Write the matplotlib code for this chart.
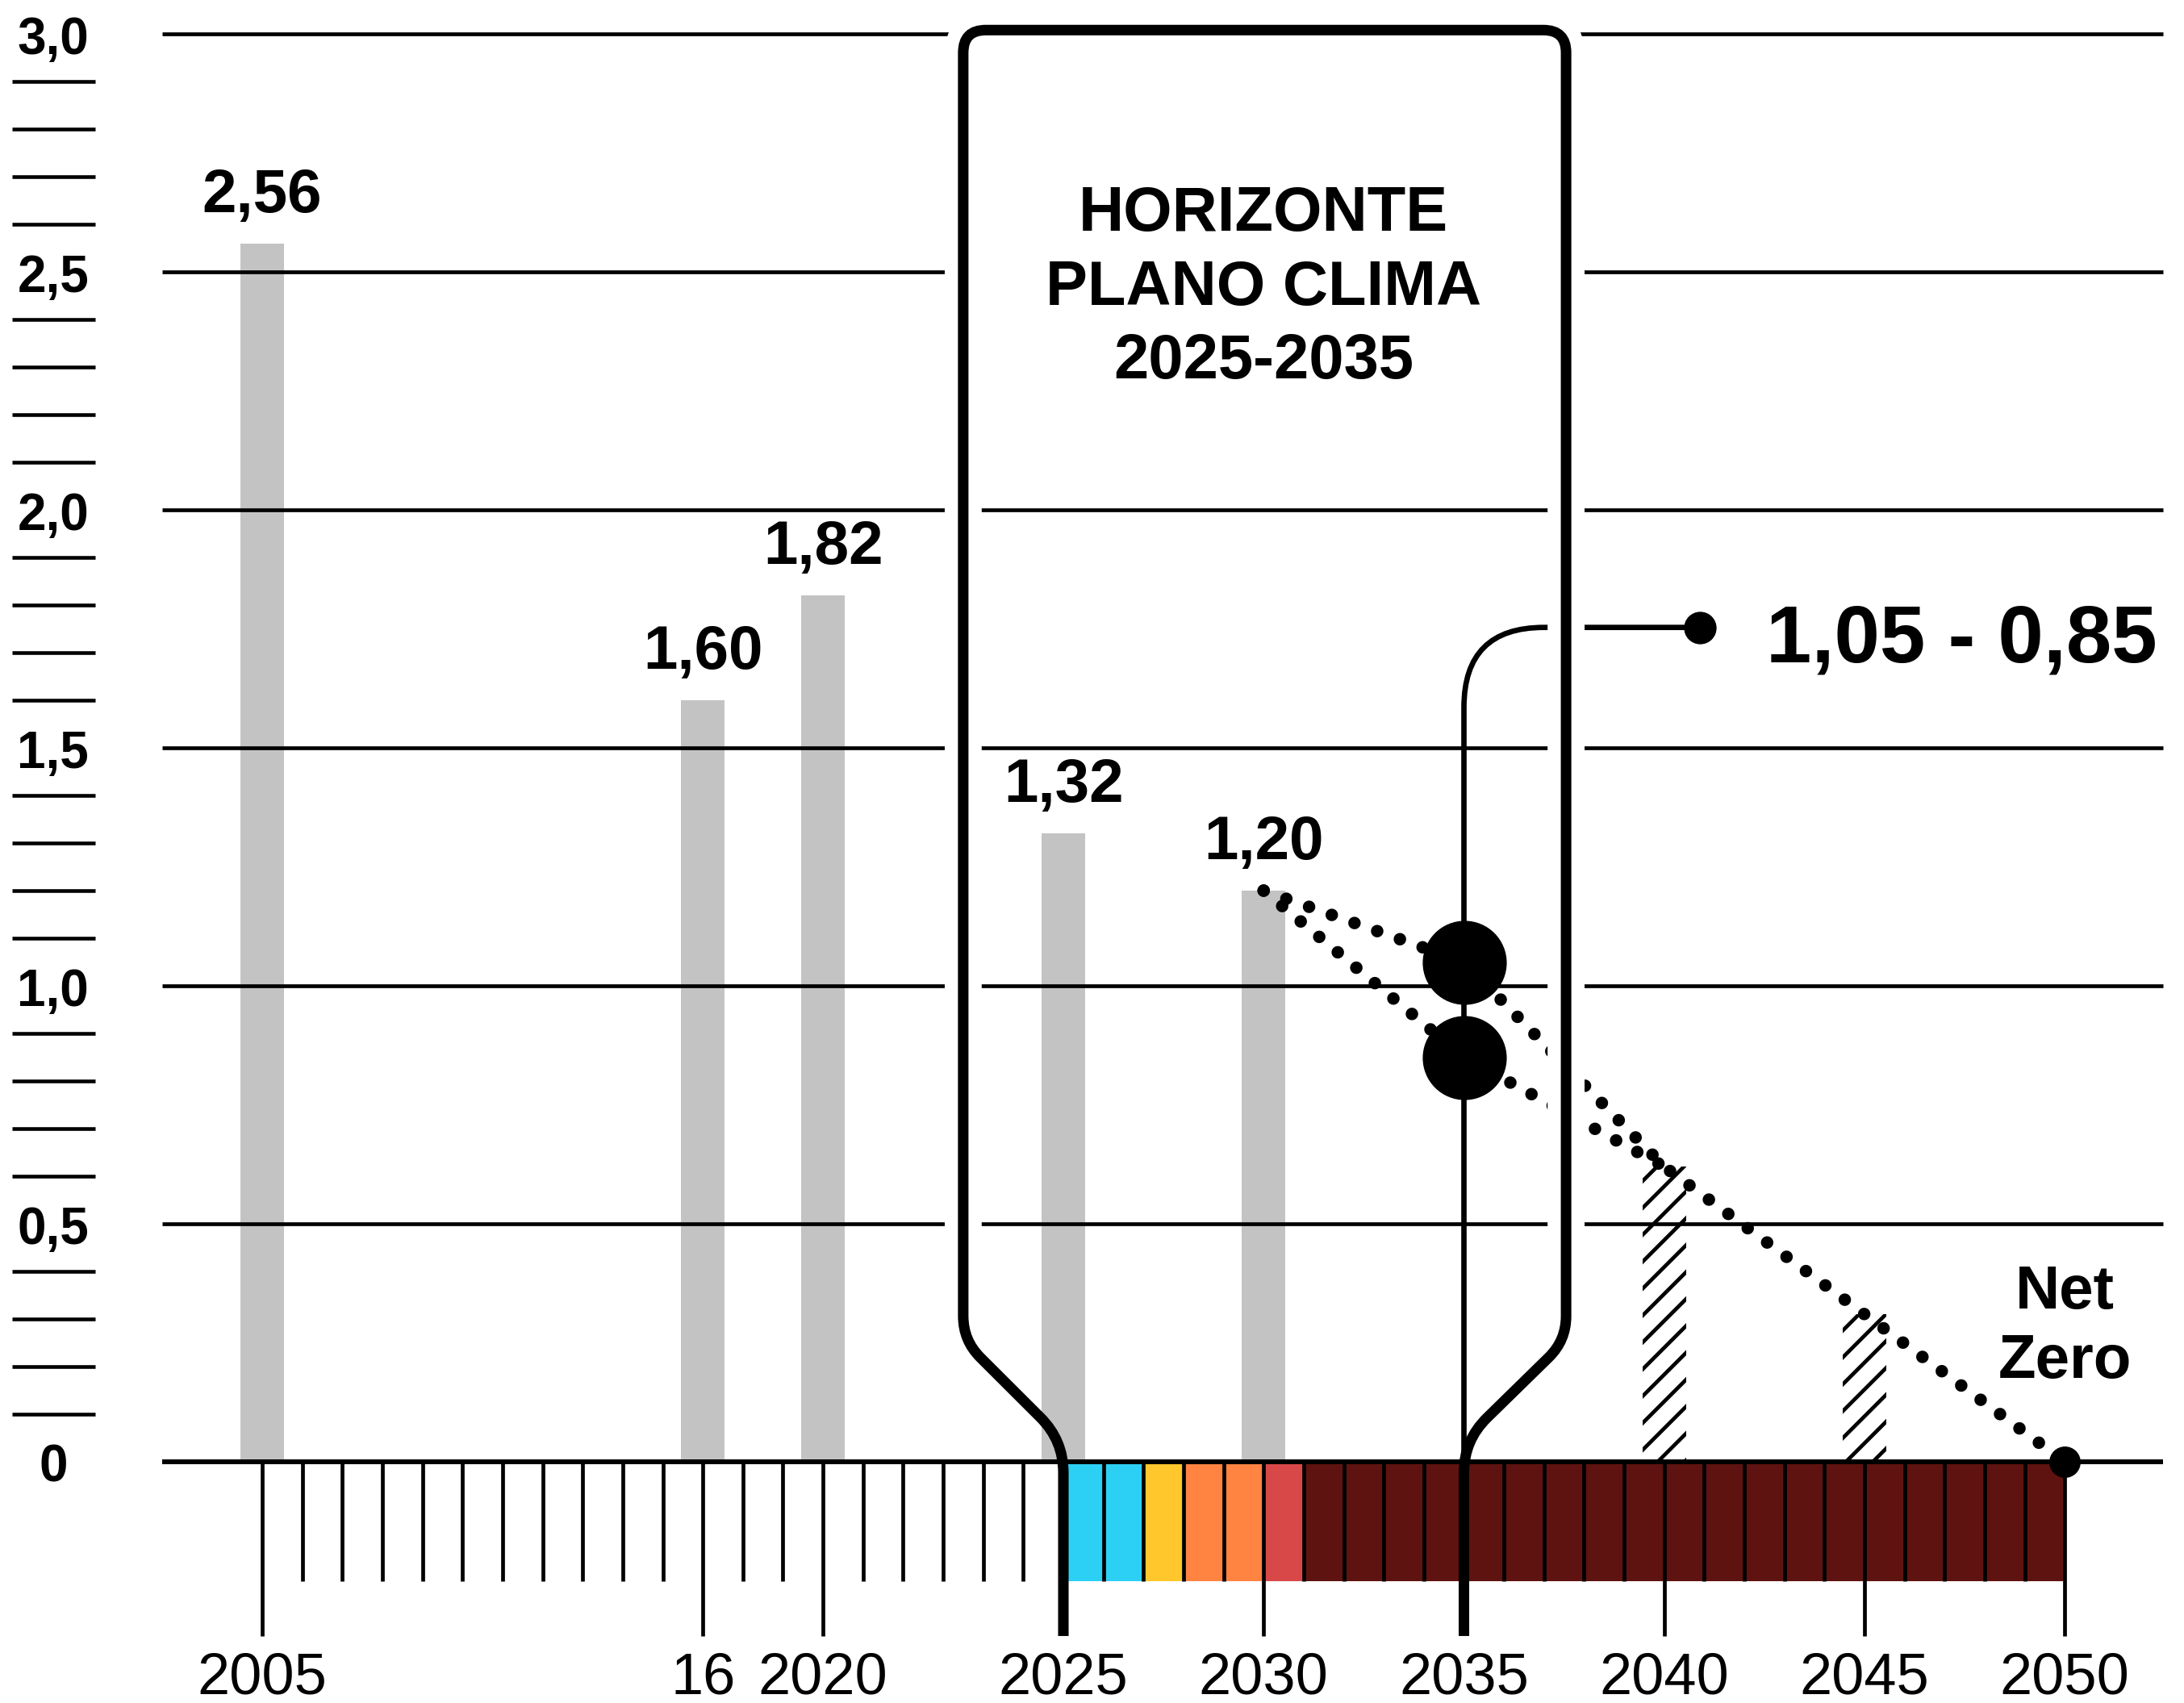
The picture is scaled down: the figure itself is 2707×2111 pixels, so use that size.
import numpy as np
import matplotlib
matplotlib.use("Agg")
import matplotlib.pyplot as plt
from matplotlib.path import Path
from matplotlib.patches import PathPatch

plt.rcParams['font.family'] = ['Liberation Sans', 'DejaVu Sans']
plt.rcParams['hatch.linewidth'] = 3.4

# =============================
#  Data
# =============================
bar_years = [2005, 2016, 2020, 2025, 2030]
bar_values = [2.56, 1.60, 1.82, 1.32, 1.20]
bar_labels = ["2,56", "1,60", "1,82", "1,32", "1,20"]

proj_years = [2040, 2045]
proj_values = [0.62, 0.31]

upper_years = [2030, 2035, 2040, 2050]
upper_values = [1.20, 1.05, 0.62, 0.0]
lower_years = [2030, 2035, 2040]
lower_values = [1.20, 0.85, 0.62]

target_year = 2035
target_values = [1.05, 0.85]
target_label = "1,05 - 0,85"

tick_years = [2005, 2016, 2020, 2025, 2030, 2035, 2040, 2045, 2050]
tick_labels = ["2005", "16", "2020", "2025", "2030", "2035", "2040", "2045", "2050"]
tick_slots = [0, 11, 14, 20, 25, 30, 35, 40, 45]

strip_years = list(range(2025, 2050))
strip_colors = (["#2dd0f5"] * 2 + ["#ffc72c"] + ["#ff8442"] * 2 +
                ["#d94848"] + ["#5f1310"] * 19)

y_ticks = [0, 0.5, 1.0, 1.5, 2.0, 2.5, 3.0]
title_lines = ["HORIZONTE", "PLANO CLIMA", "2025-2035"]
net_zero_lines = ["Net", "Zero"]

GREY = "#c3c3c3"

slot_of = dict(zip(tick_years, tick_slots))
def slot(year):
    # the chart's x axis is a run of equal steps, not a true year scale
    if year in slot_of:
        return slot_of[year]
    return year - 2005


# =============================
#  Figure
# =============================
fig = plt.figure(figsize=(27.07, 21.11), dpi=100)
ax = fig.add_axes([0, 0, 1, 1])
ax.axis("off")
px_x, px_y = 49.65, 590.0
ax.set_xlim(-325 / px_x, (2707 - 325) / px_x)
ax.set_ylim(-299 / px_y, (2111 - 299) / px_y)

def rounded(points, radii):
    px = ax.transData.transform(np.array(points, dtype=float))
    verts, codes = [px[0]], [Path.MOVETO]
    for i in range(1, len(px) - 1):
        p0, p1, p2 = px[i - 1], px[i], px[i + 1]
        d1 = (p0 - p1) / np.hypot(*(p0 - p1))
        d2 = (p2 - p1) / np.hypot(*(p2 - p1))
        r = radii[i - 1]
        verts += [p1 + d1 * r, p1, p1 + d2 * r]
        codes += [Path.LINETO, Path.CURVE3, Path.CURVE3]
    verts.append(px[-1])
    codes.append(Path.LINETO)
    verts = ax.transData.inverted().transform(np.array(verts))
    return Path(verts, codes)

box_l, box_r, box_t = 17.5, 32.55, 3.008
x_lo, x_hi = -2.5, 47.45

# ---- bars ----
ax.bar([slot(y) for y in bar_years], bar_values, width=1.09, color=GREY,
       linewidth=0, zorder=1)
for yr, v, lab in zip(bar_years, bar_values, bar_labels):
    ax.annotate(lab, (slot(yr), v), xytext=(0, 28), textcoords="offset points",
                ha="center", va="baseline", fontsize=55, fontweight="bold",
                zorder=6)

ax.bar([slot(y) for y in proj_years], proj_values, width=1.09,
       facecolor="white", edgecolor="black", linewidth=0, hatch="/", zorder=1)

# ---- colour strip below the axis ----
ax.bar([slot(y) for y in strip_years], -0.251, width=1, align="edge",
       color=strip_colors, linewidth=0, zorder=1)

# ---- gridlines ----
for v in y_ticks:
    if v == 0:
        ax.plot([x_lo, x_hi], [0, 0], color="black", lw=4.3, zorder=2,
                solid_capstyle="butt")
    elif v >= 2.5:
        ax.plot([x_lo, box_l], [v, v], color="black", lw=3.4, zorder=2,
                solid_capstyle="butt")
        ax.plot([box_r, x_hi], [v, v], color="black", lw=3.4, zorder=2,
                solid_capstyle="butt")
    else:
        ax.plot([x_lo, x_hi], [v, v], color="black", lw=3.4, zorder=2,
                solid_capstyle="butt")

# ---- y labels and dashes ----
for v in y_ticks:
    lab = "0" if v == 0 else f"{v:.1f}".replace(".", ",")
    ax.text(-5.22, v - 0.042, lab, ha="center", va="baseline", fontsize=46,
            fontweight="bold")
for k in range(1, 30):
    if k % 5:
        ax.plot([-6.24, -4.17], [k / 10, k / 10], color="black", lw=3.3,
                solid_capstyle="butt", zorder=2)

# ---- x ticks ----
long_slots = [s for s in tick_slots if s not in (20, 30)]
for s in range(0, 46):
    if s in (20, 30):
        continue
    bottom = -0.366 if s in long_slots else -0.251
    ax.plot([s, s], [0, bottom], color="black", lw=3.4, zorder=2,
            solid_capstyle="butt")
for s, lab in zip(tick_slots, tick_labels):
    ax.text(s, -0.488, lab, ha="center", va="baseline", fontsize=52)

# ---- pathways ----
dots = dict(color="black", lw=11.2, linestyle=(0, (0.001, 1.92)),
            dash_capstyle="round", zorder=3)
ax.plot([slot(y) for y in upper_years], upper_values, **dots)
ax.plot([slot(y) for y in lower_years], lower_values, **dots)

# connector from 2035 to the range label
conn = rounded([(slot(target_year), 0), (slot(target_year), 1.753),
                (35.9, 1.753)], [99])
ax.add_patch(PathPatch(conn, facecolor="none", edgecolor="black", lw=4.8,
                       capstyle="butt", zorder=3))
ax.plot([35.9], [1.753], "o", color="black", ms=28, zorder=6)
ax.text(37.55, 1.681, target_label, ha="left", va="baseline", fontsize=73,
        fontweight="bold")

# ---- horizon box ----
halo = rounded([(box_l, 0.255), (box_l, box_t), (box_r, box_t),
                (box_r, 0.255)], [28, 28])
ax.add_patch(PathPatch(halo, facecolor="none", edgecolor="white", lw=33,
                       capstyle="butt", zorder=4))
box = rounded([(slot(2025), -0.366), (slot(2025), 0.045), (box_l, 0.255),
               (box_l, box_t), (box_r, box_t), (box_r, 0.255),
               (slot(2035), 0.045), (slot(2035), -0.366)],
              [40, 30, 28, 28, 30, 40])
ax.add_patch(PathPatch(box, facecolor="none", edgecolor="black", lw=9.4,
                       capstyle="butt", joinstyle="round", zorder=5))

for i, line in enumerate(title_lines):
    ax.text(slot(2030), 2.586 - i * 0.155, line, ha="center", va="baseline",
            fontsize=56, fontweight="bold", zorder=6)

# ---- markers ----
ax.plot([slot(target_year)] * 2, target_values, "o", color="black", ms=74,
        zorder=6)
ax.plot([slot(upper_years[-1])], [upper_values[-1]], "o", color="black",
        ms=27, zorder=6)
for i, line in enumerate(net_zero_lines):
    ax.text(slot(2050), 0.322 - i * 0.146, line, ha="center", va="baseline",
            fontsize=55, fontweight="bold")

fig.savefig("out.png", dpi=100, facecolor="white")
